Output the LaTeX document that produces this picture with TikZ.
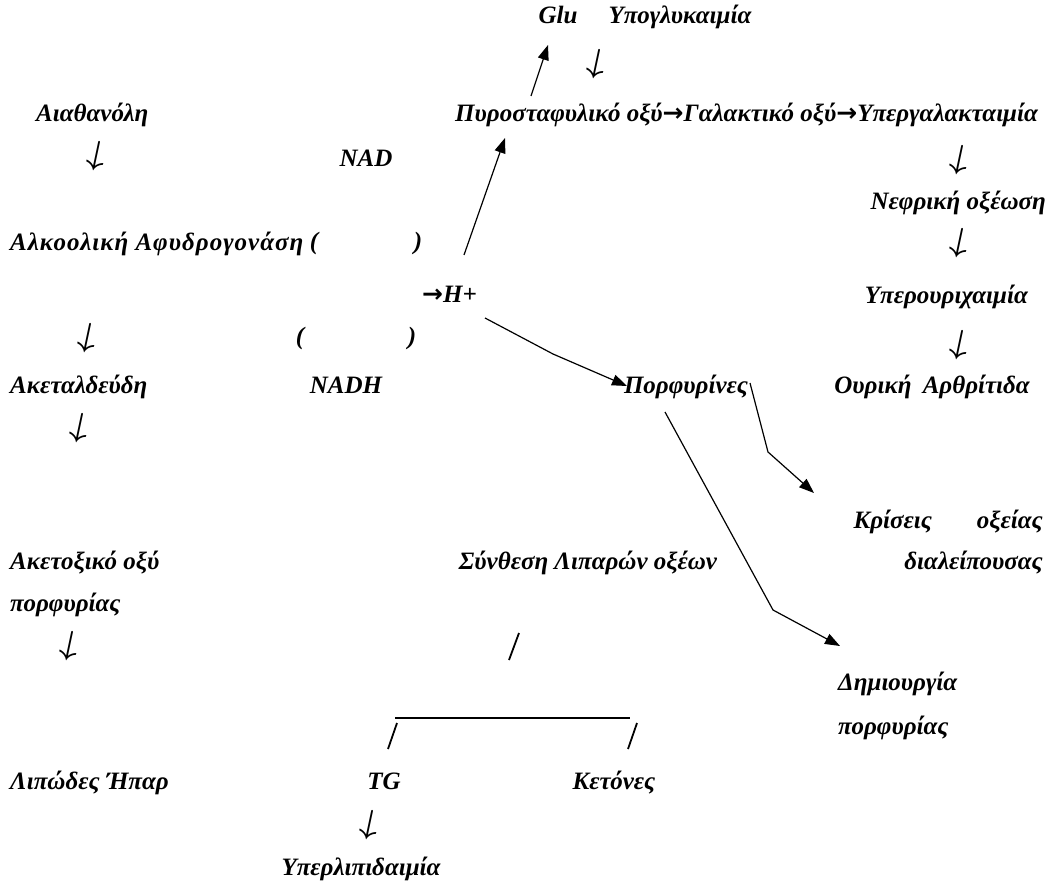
\documentclass[tikz,border=0pt]{standalone}
\usepackage{fontspec}
\setmainfont{Liberation Serif}
\newfontfamily\arrowfont{DejaVu Sans}
\newfontfamily\lmfont{Latin Modern Roman}
\usetikzlibrary{arrows.meta}

\newcommand{\ra}{{\arrowfont →}}

\begin{document}
\begin{tikzpicture}[
  x=1pt, y=-1pt,
  txt/.style={inner sep=0pt, font=\bfseries\itshape\fontsize{25}{30}\selectfont},
  lbl/.style={txt, anchor=base west},
  lblc/.style={txt, anchor=base},
  lblr/.style={txt, anchor=base east},
  dn/.style={inner sep=0pt, rotate=-12, font=\lmfont\bfseries\fontsize{34}{40}\selectfont},
  link/.style={line width=1.2pt, -{Triangle[length=15pt,width=11pt]}},
  tick/.style={line width=1.8pt},
]
\useasboundingbox (0,0) rectangle (1057,885);

% top
\node[lblc] (glu) at (558,24) {Glu};
\node[lblc] (hypogly) at (680,24) {Υπογλυκαιμία};
\node[dn] (d0) at (597,64) {↓};
\node[lbl] (pyr) at (455,122) {Πυροσταφυλικό οξύ\ra Γαλακτικό οξύ\ra Υπεργαλακταιμία};

% left column
\node[lbl] (eth) at (36,122) {Αιαθανόλη};
\node[dn] (d1) at (97,156) {↓};
\node[lblc] (nad) at (366,167) {NAD};
\node[lbl] (adh) at (10,251) {\addfontfeatures{LetterSpace=4}Αλκοολική Αφυδρογονάση};
\node[txt] (p1) at (314,243) {(};
\node[txt] (p2) at (418,243) {)};
\node[lbl] (hp) at (422,302) {\ra H+};
\node[dn] (d2) at (88,338) {↓};
\node[txt] (p3) at (300,338) {(};
\node[txt] (p4) at (412,338) {)};
\node[lbl] (acet) at (10,393) {Ακεταλδεύδη};
\node[lblc] (nadh) at (346,393) {NADH};
\node[dn] (d3) at (80,428) {↓};
\node[lbl] (acac) at (10,569) {Ακετοξικό οξύ};
\node[lbl] (porfa) at (10,611) {πορφυρίας};
\node[dn] (d4) at (70,646) {↓};
\node[lbl] (liver) at (10,789) {Λιπώδες Ήπαρ};

% right column
\node[dn] (d5) at (960,160) {↓};
\node[lblr] (acid) at (1046,210) {Νεφρική οξέωση};
\node[dn] (d6) at (960,243) {↓};
\node[lblr] (uric) at (1028,303) {Υπερουριχαιμία};
\node[dn] (d7) at (960,345) {↓};
\node[lblr] (gout) at (1030,393) {Ουρική\hspace{0.45em}Αρθρίτιδα};
\node[lblc] (porf) at (686,393) {Πορφυρίνες};
\node[lblr] (crisis) at (1043,528) {Κρίσεις\hspace{1.8em}οξείας};
\node[lblr] (inter) at (1043,569) {διαλείπουσας};
\node[lbl] (create) at (838,690) {Δημιουργία};
\node[lbl] (porfb) at (838,734) {πορφυρίας};

% fatty acids
\node[lblc] (fa) at (588,569) {Σύνθεση Λιπαρών οξέων};
\node[lblc] (tg) at (384,789) {TG};
\node[lblc] (ket) at (614,789) {Κετόνες};
\node[dn] (d8) at (370,825) {↓};
\node[lblc] (hyperlip) at (361,875) {Υπερλιπιδαιμία};

% arrow ends
\coordinate (pyr-out) at (531,96);
\coordinate (glu-in) at (548,45);
\coordinate (hp-up) at (464,255);
\coordinate (pyr-in) at (505,138);
\coordinate (hp-out) at (485,318);
\coordinate (hp-bend) at (553,354);
\coordinate (porf-in) at (627,386);
\coordinate (porf-r) at (750,383);
\coordinate (porf-rb) at (768,452);
\coordinate (crisis-in) at (814,493);
\coordinate (porf-b) at (665,412);
\coordinate (porf-bb) at (773,610);
\coordinate (create-in) at (840,646);

\draw[link] (pyr-out) -- (glu-in);
\draw[link] (hp-up) -- (pyr-in);
\draw[link] (hp-out) -- (hp-bend) -- (porf-in);
\draw[link] (porf-r) -- (porf-rb) -- (crisis-in);
\draw[link] (porf-b) -- (porf-bb) -- (create-in);

% fork to TG / ketones
\draw[tick] (509,660) -- (519,633);
\draw[line width=1.3pt] (395,718) -- (630,718);
\draw[tick] (388,749) -- (397,723);
\draw[tick] (628,749) -- (637,723);
\end{tikzpicture}
\end{document}
